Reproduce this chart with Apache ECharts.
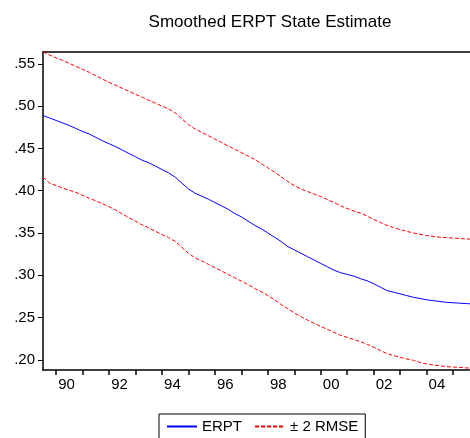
<!DOCTYPE html>
<html>
<head>
<meta charset="utf-8">
<script src="https://cdn.jsdelivr.net/npm/echarts@6/dist/echarts.min.js"></script>
<style>
  html, body { margin: 0; padding: 0; background: #fff; }
  #chart { width: 470px; height: 438px; }
</style>
</head>
<body>
<div id="chart"></div>
<script>
// ── Data (quarterly, 1989Q3 .. 2005Q4) ─────────────────────────────────────
var quarters = [
  1989.50, 1989.75,
  1990.00, 1990.25, 1990.50, 1990.75, 1991.00, 1991.25, 1991.50, 1991.75,
  1992.00, 1992.25, 1992.50, 1992.75, 1993.00, 1993.25, 1993.50, 1993.75,
  1994.00, 1994.25, 1994.50, 1994.75, 1995.00, 1995.25, 1995.50, 1995.75,
  1996.00, 1996.25, 1996.50, 1996.75, 1997.00, 1997.25, 1997.50, 1997.75,
  1998.00, 1998.25, 1998.50, 1998.75, 1999.00, 1999.25, 1999.50, 1999.75,
  2000.00, 2000.25, 2000.50, 2000.75, 2001.00, 2001.25, 2001.50, 2001.75,
  2002.00, 2002.25, 2002.50, 2002.75, 2003.00, 2003.25, 2003.50, 2003.75,
  2004.00, 2004.25, 2004.50, 2004.75, 2005.00, 2005.25, 2005.50, 2005.75
];

var erpt = [
  0.489, 0.486,
  0.483, 0.480, 0.477, 0.4735, 0.470, 0.467, 0.463, 0.459,
  0.4555, 0.452, 0.448, 0.444, 0.440, 0.436, 0.433, 0.429,
  0.425, 0.421, 0.416, 0.409, 0.402, 0.397, 0.3935, 0.390,
  0.386, 0.382, 0.378, 0.373, 0.369, 0.364, 0.359, 0.355,
  0.350, 0.345, 0.340, 0.334, 0.330, 0.326, 0.322, 0.318,
  0.314, 0.310, 0.306, 0.303, 0.301, 0.299, 0.296, 0.2935,
  0.290, 0.286, 0.282, 0.280, 0.278, 0.276, 0.274, 0.2725,
  0.271, 0.270, 0.269, 0.268, 0.2675, 0.267, 0.2665, 0.266
];

var upper = [
  0.564, 0.5605,
  0.557, 0.554, 0.5505, 0.547, 0.5435, 0.540, 0.536, 0.532,
  0.528, 0.5245, 0.521, 0.5175, 0.514, 0.5105, 0.507, 0.5035,
  0.500, 0.4965, 0.492, 0.485, 0.478, 0.473, 0.469, 0.465,
  0.461, 0.457, 0.453, 0.449, 0.445, 0.441, 0.437, 0.432,
  0.427, 0.422, 0.4165, 0.411, 0.406, 0.402, 0.399, 0.396,
  0.393, 0.3895, 0.386, 0.382, 0.379, 0.376, 0.3735, 0.370,
  0.366, 0.3625, 0.359, 0.3565, 0.354, 0.352, 0.350, 0.3485,
  0.347, 0.346, 0.345, 0.3445, 0.344, 0.3435, 0.343, 0.3425
];

var lower = [
  0.416, 0.409,
  0.406, 0.403, 0.4005, 0.398, 0.3945, 0.391, 0.388, 0.3845,
  0.381, 0.377, 0.3725, 0.368, 0.364, 0.3595, 0.356, 0.352,
  0.348, 0.3445, 0.340, 0.333, 0.326, 0.3205, 0.317, 0.313,
  0.309, 0.305, 0.301, 0.297, 0.293, 0.289, 0.2845, 0.2805,
  0.276, 0.271, 0.2655, 0.2605, 0.2555, 0.251, 0.247, 0.243,
  0.2395, 0.236, 0.2325, 0.229, 0.2265, 0.224, 0.2215, 0.2185,
  0.215, 0.211, 0.2075, 0.205, 0.203, 0.201, 0.1995, 0.197,
  0.195, 0.194, 0.193, 0.192, 0.1915, 0.191, 0.1905, 0.190
];

var yearTicks  = [1990, 1991, 1992, 1993, 1994, 1995, 1996, 1997, 1998, 1999, 2000, 2001, 2002, 2003, 2004, 2005];
var yearLabels = [1990, 1992, 1994, 1996, 1998, 2000, 2002, 2004];
var yTicks     = [0.20, 0.25, 0.30, 0.35, 0.40, 0.45, 0.50, 0.55];

// ── Helpers ─────────────────────────────────────────────────────────────────
function pairs(xs, ys) {
  return ys.map(function(v, i) { return [xs[i], v]; });
}

var FONT = "'Liberation Sans', Arial, sans-serif";
var X_MIN = 1989.5, X_MAX = 2005.64;

var chart = echarts.init(document.getElementById('chart'), null, { renderer: 'canvas' });

chart.setOption({
  backgroundColor: '#fff',
  animation: false,
  title: {
    text: 'Smoothed ERPT State Estimate',
    left: 265,
    top: 9,
    textAlign: 'center',
    textStyle: { fontFamily: FONT, fontSize: 17, fontWeight: 'normal', color: '#000' }
  },
  grid: { left: 43, top: 52, right: 0, bottom: 68, show: false },
  legend: {
    left: 159, top: 414,
    padding: [5, 7, 5, 7],
    borderColor: '#000', borderWidth: 1,
    itemWidth: 30, itemHeight: 10, itemGap: 12,
    itemStyle: { opacity: 0 },
    textStyle: { fontFamily: FONT, fontSize: 15, color: '#000' },
    data: ['ERPT', '\u00b1 2 RMSE']
  },
  xAxis: [{
    type: 'value',
    min: X_MIN,
    max: X_MAX,
    splitLine: { show: false },
    axisLine: { lineStyle: { color: '#000', width: 1.5 } },
    axisTick: { show: true, customValues: yearTicks, length: 5, lineStyle: { color: '#000', width: 1.5 } },
    axisLabel: {
      customValues: yearLabels,
      margin: 7,
      align: 'left',
      padding: [0, 0, 0, 2],
      fontFamily: FONT, fontSize: 15, color: '#000',
      formatter: function(v) { return String(Math.round(v) % 100).padStart(2, '0'); }
    }
  }, {
    // top frame line only
    type: 'value', position: 'top',
    min: X_MIN, max: X_MAX,
    splitLine: { show: false },
    axisLine: { show: true, lineStyle: { color: '#000', width: 1.5 } },
    axisTick: { show: false },
    axisLabel: { show: false }
  }],
  yAxis: {
    type: 'value',
    min: 0.188,
    max: 0.564,
    splitLine: { show: false },
    axisLine: { show: true, lineStyle: { color: '#000', width: 1.5 } },
    axisTick: { show: true, customValues: yTicks, length: 5, lineStyle: { color: '#000', width: 1 } },
    axisLabel: {
      customValues: yTicks,
      margin: 8,
      fontFamily: FONT, fontSize: 15, color: '#000',
      formatter: function(v) { return v.toFixed(2).replace(/^0/, ''); }
    }
  },
  series: [
    {
      name: 'ERPT', type: 'line', symbol: 'none', clip: true,
      lineStyle: { color: '#0000ff', width: 1 },
      itemStyle: { color: '#0000ff' },
      data: pairs(quarters, erpt)
    },
    {
      name: '\u00b1 2 RMSE', type: 'line', symbol: 'none', clip: true,
      lineStyle: { color: '#ff0000', width: 1, type: [4, 2] },
      itemStyle: { color: '#ff0000' },
      data: pairs(quarters, upper)
    },
    {
      name: '\u00b1 2 RMSE', type: 'line', symbol: 'none', clip: true,
      lineStyle: { color: '#ff0000', width: 1, type: [4, 2] },
      itemStyle: { color: '#ff0000' },
      data: pairs(quarters, lower)
    }
  ]
});
</script>
</body>
</html>
